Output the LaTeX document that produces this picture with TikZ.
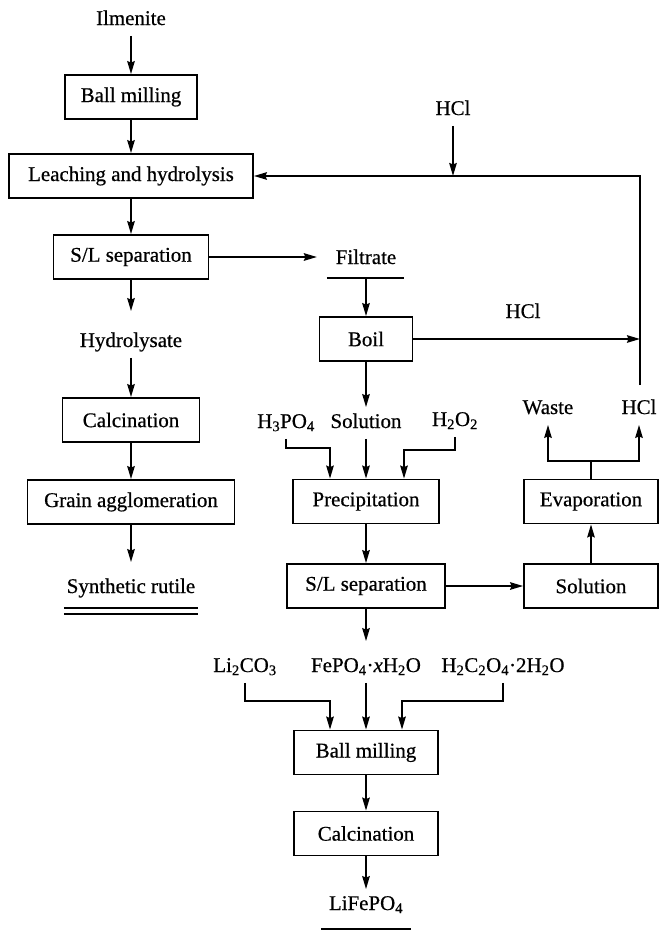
\documentclass[tikz,border=0pt]{standalone}
\usepackage{fontspec}
\setmainfont{Liberation Serif}[FakeBold=0.6]
\usetikzlibrary{arrows.meta,positioning,calc}

\begin{document}
\begin{tikzpicture}[x=1bp, y=-1bp, line width=1.8bp,
    font=\fontsize{21}{25}\selectfont,
    >={Stealth[length=13bp,width=7.5bp,inset=1.5bp]},
    box/.style={draw, inner sep=0pt, minimum height=44bp},
    lbl/.style={inner xsep=2bp, inner ysep=6bp, text height=14bp, text depth=4bp}]
  \useasboundingbox (0,0) rectangle (660,932);
  % left column: ilmenite route
  \node[lbl] (ilm) at (131,20) {Ilmenite};
  \node[box, minimum width=132bp] (bm1) at (131,97) {Ball milling};
  \node[box, minimum width=244bp] (leach) at (131,176) {Leaching and hydrolysis};
  \node[box, minimum width=155bp] (sl1) at (131,257) {S/L separation};
  \node[lbl] (hyd) at (131,342) {Hydrolysate};
  \node[box, minimum width=137bp] (calc1) at (131,420) {Calcination};
  \node[box, minimum width=207bp] (grain) at (131,502) {Grain agglomeration};
  \node[lbl] (rutile) at (131,588) {Synthetic rutile};
  % middle column: filtrate to phosphate
  \node[lbl] (filt) at (366,259) {Filtrate};
  \node[box, minimum width=93bp] (boil) at (366,339) {Boil};
  \node[lbl] (h3po4) at (286,423) {H\textsubscript{3}PO\textsubscript{4}};
  \node[lbl] (sol1) at (366,423) {Solution};
  \node[lbl] (h2o2) at (455,421) {H\textsubscript{2}O\textsubscript{2}};
  \node[box, minimum width=146bp] (prec) at (366,501.5) {Precipitation};
  \node[box, minimum width=158bp] (sl2) at (366,586) {S/L separation};
  \node[lbl] (li) at (245,667) {Li\textsubscript{2}CO\textsubscript{3}};
  \node[lbl] (fepo) at (366,667) {FePO\textsubscript{4}·\textit{x}H\textsubscript{2}O};
  \node[lbl] (oxal) at (503,667) {H\textsubscript{2}C\textsubscript{2}O\textsubscript{4}·2H\textsubscript{2}O};
  \node[box, minimum width=144bp] (bm2) at (366,752.5) {Ball milling};
  \node[box, minimum width=144bp] (calc2) at (366,833.5) {Calcination};
  \node[lbl] (lfp) at (366,905) {LiFePO\textsubscript{4}};
  % right column: acid recovery
  \node[lbl] (hcl1) at (453,110) {HCl};
  \node[lbl] (hcl2) at (523,313) {HCl};
  \node[lbl] (waste) at (548,409) {Waste};
  \node[lbl] (hcl3) at (639,409) {HCl};
  \node[box, minimum width=134bp] (evap) at (591,501.5) {Evaporation};
  \node[box, minimum width=134bp] (sol2) at (591,586) {Solution};
  \coordinate (rtop) at (640,176);
  \coordinate (rbot) at (640,385);
  % underlines
  \draw ([yshift=-4bp]rutile.south west) -- ([yshift=-4bp]rutile.south east);
  \draw ([yshift=-10bp]rutile.south west) -- ([yshift=-10bp]rutile.south east);
  \draw ([xshift=-6bp,yshift=-3bp]filt.south west) -- ([xshift=5bp,yshift=-3bp]filt.south east);
  \coordinate (filtbar) at ([yshift=-3bp]filt.south);
  \draw ([xshift=-5bp,yshift=-8bp]lfp.south west) -- ([xshift=5bp,yshift=-8bp]lfp.south east);
  % left flow
  \draw[->] (ilm) -- (bm1);
  \draw[->] (bm1) -- (leach);
  \draw[->] (leach) -- (sl1);
  \draw[->, shorten >=15bp] (sl1) -- (hyd);
  \draw[->] (hyd) -- (calc1);
  \draw[->] (calc1) -- (grain);
  \draw[->, shorten >=10bp] (grain) -- (rutile);
  % middle flow
  \draw[->, shorten >=16bp] (sl1) -- (sl1 -| filt.west);
  \draw[->] (filtbar) -- (filtbar |- boil.north);
  \draw[->] (boil) -- (sol1);
  \draw[->] (sol1) -- (prec);
  \draw[->] (h3po4.south) -- ++(0,9) -| ([xshift=-36bp]prec.north);
  \draw[->] (h2o2.south) -- ++(0,13) -| ([xshift=38bp]prec.north);
  \draw[->] (prec) -- (sl2);
  \draw[->, shorten >=10bp] (sl2) -- (fepo);
  \draw[->] (li.south) -- ++(0,18) -| ([xshift=-36bp]bm2.north);
  \draw[->] (fepo) -- (bm2);
  \draw[->] (oxal.south) -- ++(0,18) -| ([xshift=36bp]bm2.north);
  \draw[->] (bm2) -- (calc2);
  \draw[->] (calc2) -- (lfp);
  % acid loop
  \draw[->] (sl2) -- (sol2);
  \draw[->] (sol2) -- (evap);
  \draw (evap.north) -- ++(0,-18) coordinate (split);
  \draw[->] (split) -| (waste.south);
  \draw[->] (split) -| (hcl3.south);
  \draw[->] (boil) -- (boil -| rtop);
  \draw[->] (rbot) -- (rtop) -- (leach.east);
  \draw[->] (hcl1) -- (hcl1 |- rtop);
\end{tikzpicture}
\end{document}
